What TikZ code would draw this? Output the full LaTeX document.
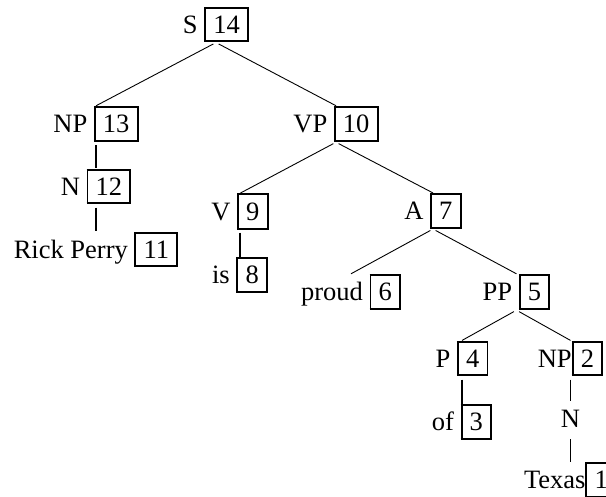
\documentclass[tikz,border=0pt]{standalone}
\usepackage{fontspec}
\setmainfont{Liberation Serif}
\newcommand\numbox[1]{{\setlength\fboxsep{7.2pt}\setlength\fboxrule{1.9pt}\fbox{\rule{0pt}{17.5pt}#1}}}
\tikzset{
  tn/.style={inner sep=0pt, font=\fontsize{26.5}{30}\selectfont},
  plain/.style={tn, text height=17.5pt, text depth=0pt, inner ysep=9pt},
  edge/.style={line width=0.9pt, shorten <=3pt},
  vedge/.style={line width=1.9pt, shorten <=3pt}
}
\begin{document}
\begin{tikzpicture}[x=1pt,y=-1pt]
\useasboundingbox (0,0) rectangle (606,497);
\node[tn] (S) at (216,24.5) {S \numbox{14}};
\node[tn] (NPa) at (96,124) {NP \numbox{13}};
\node[tn] (VP) at (336,124) {VP \numbox{10}};
\node[tn] (Na) at (96,186.5) {N \numbox{12}};
\node[tn] (RP) at (96,249.5) {Rick Perry \numbox{11}};
\node[tn] (V) at (240,211.5) {V \numbox{9}};
\node[tn] (is) at (240,275) {is \numbox{8}};
\node[tn] (A) at (433,211) {A \numbox{7}};
\node[tn] (proud) at (351,292) {proud \numbox{6}};
\node[tn] (PP) at (516.5,292) {PP \numbox{5}};
\node[tn] (P) at (462,358.5) {P \numbox{4}};
\node[tn] (NPb) at (570.5,358.5) {NP\numbox{2}};
\node[tn] (of) at (462,422) {of \numbox{3}};
\node[plain] (Nb) at (570.5,418.5) {N};
\node[tn] (Tx) at (570.5,479.75) {Texas\numbox{1}};
\draw[edge] (S.south) -- (NPa.north);
\draw[edge] (S.south) -- (VP.north);
\draw[vedge] (NPa.south) -- (Na.north);
\draw[vedge] (Na.south) -- (RP.north);
\draw[edge] (VP.south) -- (V.north);
\draw[edge] (VP.south) -- (A.north);
\draw[vedge] (V.south) -- (is.north);
\draw[edge] (A.south) -- (proud.north);
\draw[edge] (A.south) -- (PP.north);
\draw[edge] (PP.south) -- (P.north);
\draw[edge] (PP.south) -- (NPb.north);
\draw[vedge] (P.south) -- (of.north);
\draw[vedge] (NPb.south) -- (Nb.north);
\draw[vedge] (Nb.south) -- (Tx.north);
\end{tikzpicture}
\end{document}
